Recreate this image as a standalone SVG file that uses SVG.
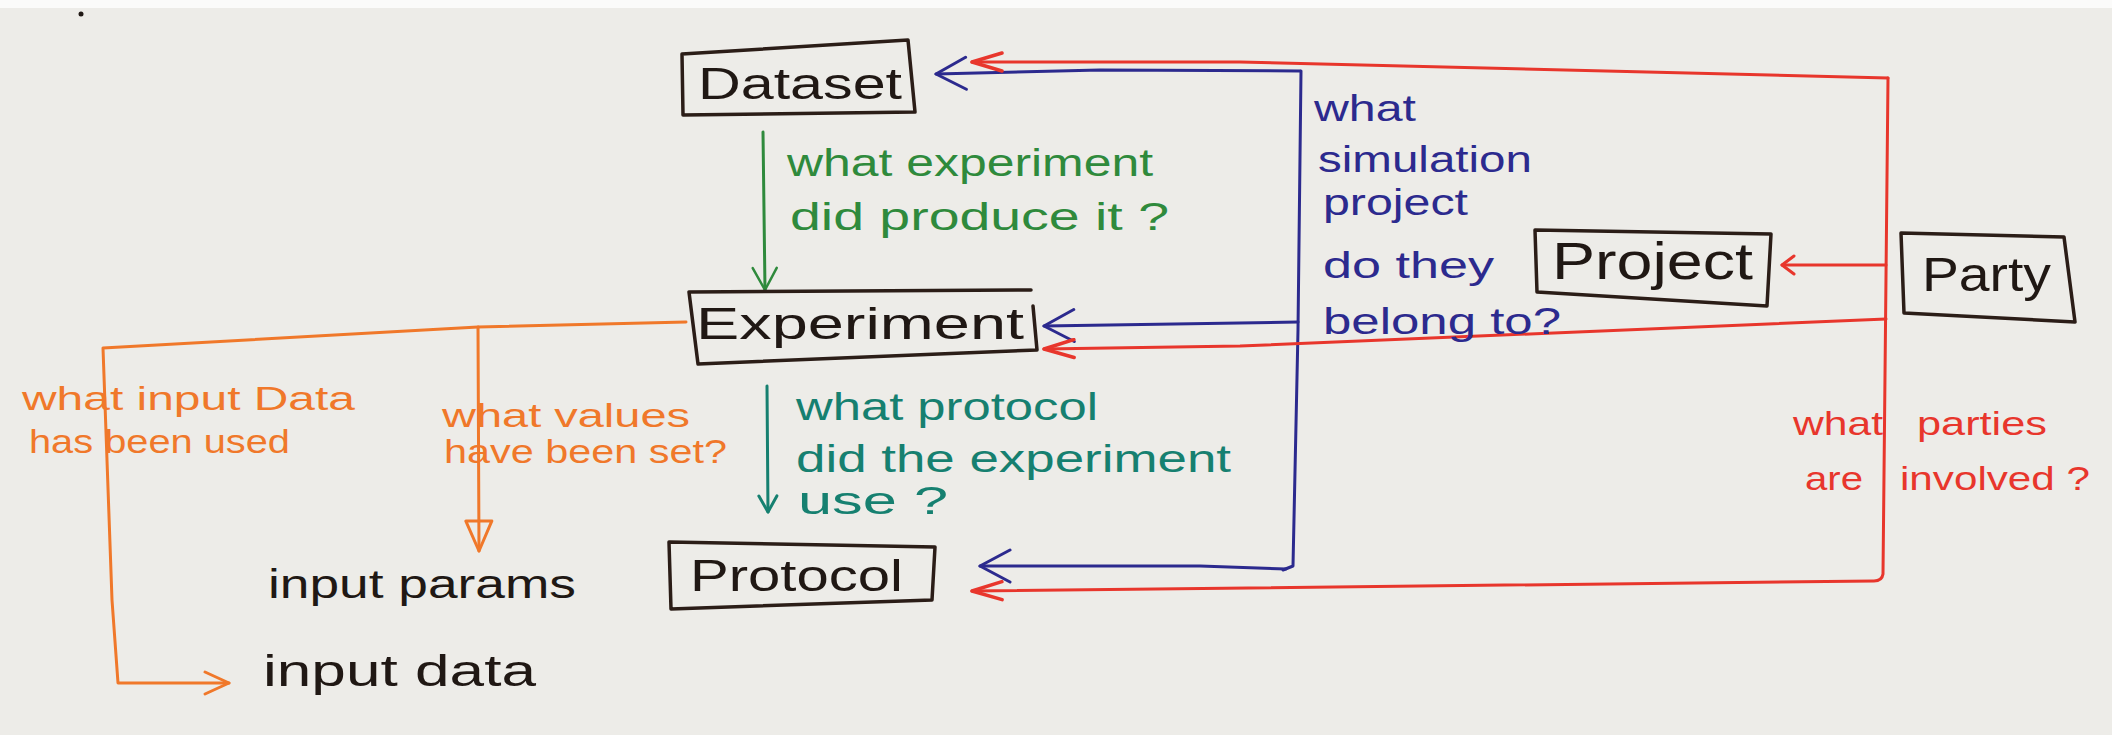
<svg xmlns="http://www.w3.org/2000/svg" width="2112" height="735" viewBox="0 0 2112 735">
<style>
.box{fill:none;stroke:#2b1d17;stroke-width:3.5;stroke-linejoin:round;stroke-linecap:round}
.lbl{font-family:"Liberation Sans",Arial,sans-serif;fill:#201814}
.c{fill:none;stroke-width:3;stroke-linecap:round;stroke-linejoin:round}
.blue{stroke:#2c2a8e}.red{stroke:#e8362c}.green{stroke:#2f8a3c}.teal{stroke:#168070}.orange{stroke:#f0782a}
.t{font-family:"Liberation Sans",Arial,sans-serif}
.tg{fill:#2f8a3c}.tt{fill:#168070}.tb{fill:#2c2a8e}.tr{fill:#e8362c}.to{fill:#f0782a}.tk{fill:#201814}
</style>
<defs>
<marker id="mb" viewBox="0 0 34 36" refX="32" refY="18" markerWidth="34" markerHeight="36" markerUnits="userSpaceOnUse" orient="auto"><path d="M2,2 L32,18 L2,34" fill="none" stroke="#2c2a8e" stroke-width="3" stroke-linecap="round" stroke-linejoin="round"/></marker>
<marker id="mr" viewBox="0 0 34 22" refX="32" refY="11" markerWidth="34" markerHeight="22" markerUnits="userSpaceOnUse" orient="auto"><path d="M2,2 L32,11 L2,20" fill="none" stroke="#e8362c" stroke-width="3.5" stroke-linecap="round" stroke-linejoin="round"/></marker>
<marker id="mr2" viewBox="0 0 16 22" refX="14" refY="11" markerWidth="16" markerHeight="22" markerUnits="userSpaceOnUse" orient="auto"><path d="M2,2 L14,11 L2,20" fill="none" stroke="#e8362c" stroke-width="3" stroke-linecap="round" stroke-linejoin="round"/></marker>
<marker id="mg" viewBox="0 0 26 28" refX="24" refY="14" markerWidth="26" markerHeight="28" markerUnits="userSpaceOnUse" orient="auto"><path d="M2,2 L24,14 L2,26" fill="none" stroke="#2f8a3c" stroke-width="2.5" stroke-linecap="round" stroke-linejoin="round"/></marker>
<marker id="mt" viewBox="0 0 20 22" refX="18" refY="11" markerWidth="20" markerHeight="22" markerUnits="userSpaceOnUse" orient="auto"><path d="M2,2 L18,11 L2,20" fill="none" stroke="#168070" stroke-width="3" stroke-linecap="round" stroke-linejoin="round"/></marker>
<marker id="mo" viewBox="0 0 28 26" refX="26" refY="13" markerWidth="28" markerHeight="26" markerUnits="userSpaceOnUse" orient="auto"><path d="M2,2 L26,13 L2,24" fill="none" stroke="#f0782a" stroke-width="3" stroke-linecap="round" stroke-linejoin="round"/></marker>
<marker id="mot" viewBox="0 0 34 30" refX="32" refY="15" markerWidth="34" markerHeight="30" markerUnits="userSpaceOnUse" orient="auto"><path d="M2,2 L32,15 L2,28 Z" fill="none" stroke="#f0782a" stroke-width="3" stroke-linejoin="round"/></marker>
</defs>
<rect x="0" y="0" width="2112" height="735" fill="#edece8"/>
<rect x="0" y="0" width="2112" height="8" fill="#fbfbfa"/>
<circle cx="81" cy="14" r="2.5" fill="#201814"/>

<g id="connectors">
  <path class="c green" d="M763,132 L765,290" marker-end="url(#mg)"/>
  <path class="c teal" d="M767,386 L768,512" marker-end="url(#mt)"/>
  <path class="c blue" d="M1301,71 L1298,330 L1293,566 L1283,570"/>
  <path class="c blue" d="M1300,71 L1100,70 L936,74" marker-end="url(#mb)"/>
  <path class="c blue" d="M1298,322 L1044,326" marker-end="url(#mb)"/>
  <path class="c blue" d="M1286,569 L1200,566 L980,566" marker-end="url(#mb)"/>
  <path class="c red" d="M1888,78 L1240,62 L972,62" marker-end="url(#mr)"/>
  <path class="c red" d="M1888,78 L1883,574 Q1882,581 1874,581 L972,591" marker-end="url(#mr)"/>
  <path class="c red" d="M1886,265 L1782,265" marker-end="url(#mr2)"/>
  <path class="c red" d="M1886,319 L1240,346 L1044,349" marker-end="url(#mr)"/>
  <path class="c orange" d="M686,322 L478,327 L103,348 L112,600 L118,683 L229,683" marker-end="url(#mo)"/>
  <path class="c orange" d="M478,327 L479,551" marker-end="url(#mot)"/>
</g>

<g id="node-dataset">
  <path class="box" d="M682,54 L908,40 L915,112 L683,115 Z"/>
  <text class="lbl" x="698" y="99" font-size="44" textLength="204" lengthAdjust="spacingAndGlyphs">Dataset</text>
</g>
<g id="node-experiment">
  <path class="box" d="M689,292 L1031,290 M1033,306 L1037,350 L698,364 L689,292"/>
  <text class="lbl" x="696" y="339" font-size="44" textLength="328" lengthAdjust="spacingAndGlyphs">Experiment</text>
</g>
<g id="node-protocol">
  <path class="box" d="M669,542 L935,547 L932,600 L671,609 Z"/>
  <text class="lbl" x="690" y="591" font-size="44" textLength="213" lengthAdjust="spacingAndGlyphs">Protocol</text>
</g>
<g id="node-project">
  <path class="box" d="M1535,230 L1771,234 L1767,306 L1537,292 Z"/>
  <text class="lbl" x="1552" y="279" font-size="52" textLength="201" lengthAdjust="spacingAndGlyphs">Project</text>
</g>
<g id="node-party">
  <path class="box" d="M1901,233 L2064,237 L2075,322 L1904,313 Z"/>
  <text class="lbl" x="1922" y="291" font-size="48" textLength="129" lengthAdjust="spacingAndGlyphs">Party</text>
</g>
<g id="node-input-params">
  <text class="t tk" x="268" y="598" font-size="40" textLength="308" lengthAdjust="spacingAndGlyphs">input params</text>
</g>
<g id="node-input-data">
  <text class="t tk" x="263" y="686" font-size="44" textLength="273" lengthAdjust="spacingAndGlyphs">input data</text>
</g>

<g id="labels">
  <text class="t tg" font-size="38"><tspan x="787" y="176" textLength="366" lengthAdjust="spacingAndGlyphs">what experiment</tspan><tspan x="790" y="230" textLength="379" lengthAdjust="spacingAndGlyphs">did produce it ?</tspan></text>
  <text class="t tt" font-size="38"><tspan x="796" y="420" textLength="302" lengthAdjust="spacingAndGlyphs">what protocol</tspan><tspan x="796" y="472" textLength="435" lengthAdjust="spacingAndGlyphs">did the experiment</tspan><tspan x="798" y="514" textLength="150" lengthAdjust="spacingAndGlyphs">use ?</tspan></text>
  <text class="t tb" font-size="36"><tspan x="1314" y="121" textLength="102" lengthAdjust="spacingAndGlyphs">what</tspan><tspan x="1318" y="172" textLength="214" lengthAdjust="spacingAndGlyphs">simulation</tspan><tspan x="1323" y="215" textLength="145" lengthAdjust="spacingAndGlyphs">project</tspan><tspan x="1323" y="278" textLength="171" lengthAdjust="spacingAndGlyphs">do they</tspan><tspan x="1323" y="334" textLength="238" lengthAdjust="spacingAndGlyphs">belong to?</tspan></text>
  <text class="t tr" font-size="34"><tspan x="1793" y="435" textLength="90" lengthAdjust="spacingAndGlyphs">what</tspan><tspan x="1917" y="435" textLength="130" lengthAdjust="spacingAndGlyphs">parties</tspan><tspan x="1805" y="490" textLength="58" lengthAdjust="spacingAndGlyphs">are</tspan><tspan x="1900" y="490" textLength="190" lengthAdjust="spacingAndGlyphs">involved ?</tspan></text>
  <text class="t to" font-size="34"><tspan x="22" y="410" textLength="333" lengthAdjust="spacingAndGlyphs">what input Data</tspan><tspan x="29" y="453" textLength="261" lengthAdjust="spacingAndGlyphs">has been used</tspan></text>
  <text class="t to" font-size="34"><tspan x="442" y="427" textLength="248" lengthAdjust="spacingAndGlyphs">what values</tspan><tspan x="444" y="463" textLength="283" lengthAdjust="spacingAndGlyphs">have been set?</tspan></text>
</g>
</svg>
